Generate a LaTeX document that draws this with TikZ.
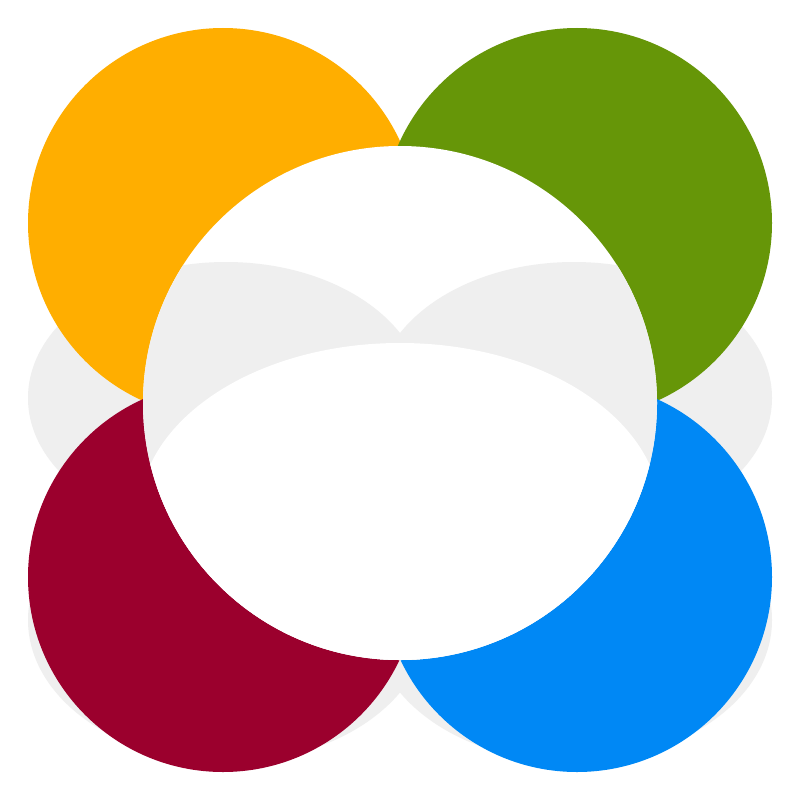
\documentclass[tikz,border=0pt]{standalone}
\definecolor{cOrange}{RGB}{255,174,0}
\definecolor{cGreen}{RGB}{102,150,8}
\definecolor{cRed}{RGB}{155,0,45}
\definecolor{cBlue}{RGB}{0,136,245}
\definecolor{cShadow}{RGB}{239,239,239}
\begin{document}
\begin{tikzpicture}[x=1pt,y=-1pt,
  shadowfill/.style={fill=cShadow},
  disc/.style={draw=none}]
\useasboundingbox (0,0) rectangle (800,800);
\fill[white] (0,0) rectangle (800,800);
% shadows
\newcommand{\shadowshapes}{%
  \fill[shadowfill] (226,398) ellipse [x radius=198, y radius=136];
  \fill[shadowfill] (574,398) ellipse [x radius=198, y radius=136];
  \fill[shadowfill] (228,620) ellipse [x radius=200, y radius=142];
  \fill[shadowfill] (572,620) ellipse [x radius=200, y radius=142];
}
\shadowshapes
% coloured circles
\fill[cOrange] (223,223) circle [radius=195];
\fill[cGreen]  (577,223) circle [radius=195];
\fill[cRed]    (223,577) circle [radius=195];
\fill[cBlue]   (577,577) circle [radius=195];
% central white circle
\fill[white] (400,403) circle [radius=257];
\begin{scope}
  \clip (400,403) circle [radius=257];
  \shadowshapes
  \fill[white] (400,515) ellipse [x radius=261, y radius=172];
\end{scope}
\end{tikzpicture}
\end{document}
